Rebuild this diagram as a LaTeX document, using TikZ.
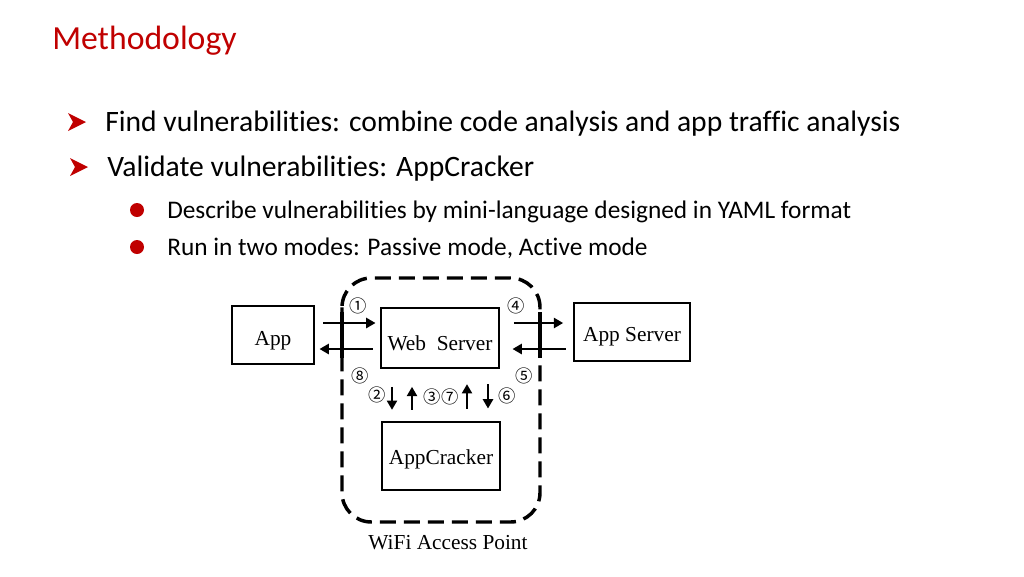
\documentclass[tikz,border=0pt]{standalone}
\usepackage{fontspec}
\setmainfont[Ligatures=CommonOff]{Carlito}
\newfontfamily\timesf{Liberation Serif}
\newfontfamily\circf{Noto Sans CJK SC}
\usetikzlibrary{arrows.meta}
\definecolor{slidered}{HTML}{C00000}
\begin{document}
\begin{tikzpicture}[x=0.75pt,y=-0.75pt,
  box/.style={draw,line width=2.2pt,inner sep=0pt},
  boxtext/.style={font=\timesf\fontsize{16}{19}\selectfont,inner sep=0pt},
  arr/.style={line width=2.2pt,-{Triangle[length=7pt,width=7.5pt]}},
  num/.style={inner sep=0pt,font=\circf\fontsize{13}{14}\selectfont},
  bodytext/.style={anchor=base west,inner sep=0pt},
  bullet/.style={circle,fill=slidered,inner sep=0pt,minimum size=10.5pt},
]
\useasboundingbox (0,0) rectangle (1024,576);
\fill[white] (0,0) rectangle (1024,576);

% title
\node[bodytext,text=slidered,font=\fontsize{25.3}{29}\selectfont] (title) at (52,49) {Methodology};

% arrow bullets
\fill[slidered] (68,113) -- (86,122) -- (68,131) -- (73,122) -- cycle;
\fill[slidered] (70,158) -- (88,167) -- (70,176) -- (75,167) -- cycle;
\node[bodytext,font=\fontsize{22.2}{26}\selectfont] (l1) at (105,131) {Find vulnerabilities: combine code analysis and app traffic analysis};
\node[bodytext,font=\fontsize{22.2}{26}\selectfont] (l2) at (107,176) {Validate vulnerabilities: AppCracker};

% round bullets
\node[bullet] (b1) at (137,210) {};
\node[bullet] (b2) at (137,247) {};
\node[bodytext,font=\fontsize{19}{22}\selectfont] (s1) at (167,218) {Describe vulnerabilities by mini-language designed in YAML format};
\node[bodytext,font=\fontsize{19}{22}\selectfont] (s2) at (167,255) {Run in two modes: Passive mode, Active mode};

% WiFi access point
\draw[line width=2.6pt,dash pattern=on 12pt off 6pt,rounded corners=22pt] (342,278) rectangle (540,522);
\node[boxtext] (wifi) at (448,543) {WiFi Access Point};

% boxes
\node[box,minimum width=61.5pt,minimum height=43.5pt,
  label={[boxtext,yshift=-4pt]center:App}] (app) at (273,335) {};
\node[box,minimum width=88.5pt,minimum height=45pt,
  label={[boxtext,yshift=-4pt]center:Web\ \ Server}] (web) at (440,338) {};
\node[box,minimum width=87pt,minimum height=43.5pt,
  label={[boxtext,yshift=-3.5pt]center:App Server}] (srv) at (632,332) {};
\node[box,minimum width=88.5pt,minimum height=51pt,
  label={[boxtext,yshift=-2.6pt]center:AppCracker}] (crk) at (441,456) {};

% solid crossings of the boundary
\coordinate (lt) at (342,312);
\coordinate (lb) at (342,358);
\coordinate (rt) at (540,312);
\coordinate (rb) at (540,358);
\draw[line width=2.6pt] (lt) -- (lb);
\draw[line width=2.6pt] (rt) -- (rb);

% horizontal connectors
\draw[arr,shorten <=6pt,shorten >=3pt] (app.east |- 0,323) -- (web.west |- 0,323);
\draw[arr,shorten <=5pt,shorten >=3pt] (web.west |- 0,349) -- (app.east |- 0,349);
\draw[arr,shorten <=10pt,shorten >=7pt] (web.east |- 0,323) -- (srv.west |- 0,323);
\draw[arr,shorten <=5pt,shorten >=9pt] (srv.west |- 0,349) -- (web.east |- 0,349);

% vertical connectors
\draw[arr,shorten <=13pt,shorten >=8pt] (web.south -| 392,0) -- (crk.north -| 392,0);
\draw[arr,shorten <=8pt,shorten >=13pt] (crk.north -| 412,0) -- (web.south -| 412,0);
\draw[arr,shorten <=9pt,shorten >=11pt] (crk.north -| 467,0) -- (web.south -| 467,0);
\draw[arr,shorten <=11pt,shorten >=9pt] (web.south -| 488,0) -- (crk.north -| 488,0);

% step numbers
\node[num] (n1) at (358,306) {①};
\node[num] (n4) at (516,306) {④};
\node[num] (n8) at (360,376) {⑧};
\node[num] (n5) at (524,376) {⑤};
\node[num] (n2) at (377,395) {②};
\node[num] (n37) at (441,397) {③⑦};
\node[num] (n6) at (507,396) {⑥};
\end{tikzpicture}
\end{document}
